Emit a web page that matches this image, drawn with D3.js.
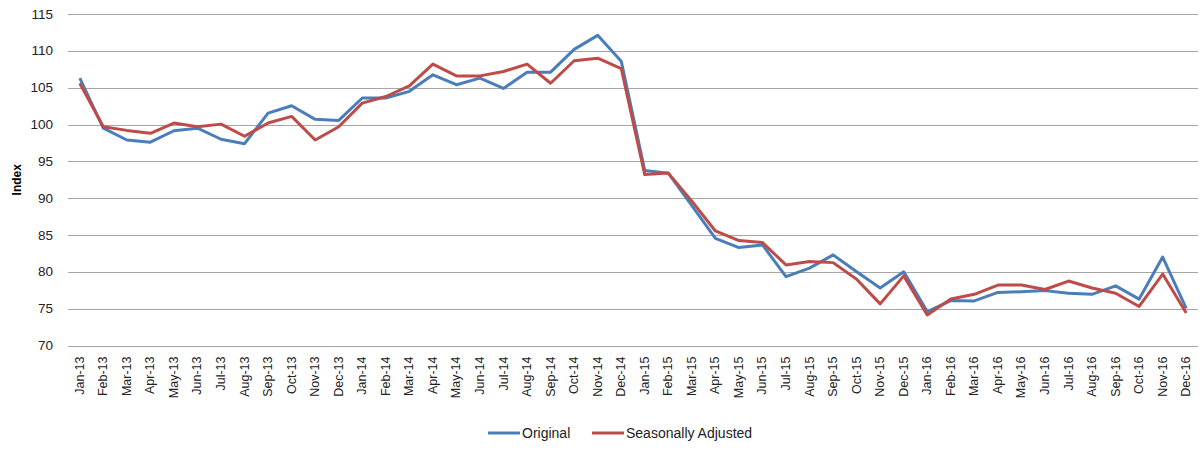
<!DOCTYPE html>
<html>
<head>
<meta charset="utf-8">
<script src="https://cdn.jsdelivr.net/npm/d3@7"></script>
<style>
  body { margin: 0; background: #fff; }
  svg { font-family: "Liberation Sans", Arial, sans-serif; }
</style>
</head>
<body>
<div id="chart"></div>
<script>
const months = ["Jan-13","Feb-13","Mar-13","Apr-13","May-13","Jun-13","Jul-13","Aug-13","Sep-13","Oct-13","Nov-13","Dec-13",
  "Jan-14","Feb-14","Mar-14","Apr-14","May-14","Jun-14","Jul-14","Aug-14","Sep-14","Oct-14","Nov-14","Dec-14",
  "Jan-15","Feb-15","Mar-15","Apr-15","May-15","Jun-15","Jul-15","Aug-15","Sep-15","Oct-15","Nov-15","Dec-15",
  "Jan-16","Feb-16","Mar-16","Apr-16","May-16","Jun-16","Jul-16","Aug-16","Sep-16","Oct-16","Nov-16","Dec-16"];

const original = [106.3, 99.5, 97.9, 97.6, 99.15, 99.5, 98.0, 97.4, 101.55, 102.55, 100.7, 100.55,
  103.6, 103.6, 104.5, 106.75, 105.4, 106.3, 104.9, 107.1, 107.1, 110.2, 112.1, 108.6,
  93.75, 93.4, 89.0, 84.55, 83.3, 83.65, 79.35, 80.5, 82.3, 80.0, 77.8, 80.0,
  74.6, 76.1, 76.05, 77.2, 77.3, 77.45, 77.1, 76.95, 78.1, 76.3, 82.0, 75.05];

const adjusted = [105.6, 99.7, 99.2, 98.8, 100.2, 99.7, 100.05, 98.4, 100.2, 101.1, 97.9, 99.7,
  102.9, 103.8, 105.25, 108.2, 106.6, 106.6, 107.2, 108.2, 105.6, 108.65, 109.0, 107.6,
  93.2, 93.4, 89.6, 85.55, 84.25, 83.97, 80.94, 81.4, 81.25, 79.0, 75.65, 79.45,
  74.15, 76.3, 76.95, 78.2, 78.2, 77.6, 78.75, 77.8, 77.1, 75.3, 79.7, 74.4];

const yTicks = [70, 75, 80, 85, 90, 95, 100, 105, 110, 115];

const seriesNames = ["Original", "Seasonally Adjusted"];
const colors = ["#4a7ebb", "#be4b48"];

const width = 1201, height = 449;
const margin = { top: 14, right: 3, bottom: 103.5, left: 68 };

const svg = d3.select("#chart").append("svg")
  .attr("width", width)
  .attr("height", height);

const x = d3.scaleBand()
  .domain(months)
  .range([margin.left, width - margin.right]);

const y = d3.scaleLinear()
  .domain([70, 115])
  .range([height - margin.bottom, margin.top]);

// gridlines
svg.append("g")
  .selectAll("line")
  .data(yTicks)
  .enter().append("line")
  .attr("x1", margin.left)
  .attr("x2", width - margin.right)
  .attr("y1", d => Math.round(y(d)) + 0.5)
  .attr("y2", d => Math.round(y(d)) + 0.5)
  .attr("stroke", "#a6a6a6")
  .attr("stroke-width", 1);

// y axis labels
svg.append("g")
  .selectAll("text")
  .data(yTicks)
  .enter().append("text")
  .attr("x", 53)
  .attr("y", d => y(d))
  .attr("text-anchor", "end")
  .attr("dominant-baseline", "central")
  .attr("font-size", 13.5)
  .attr("fill", "#222")
  .text(d => d);

// y axis title
svg.append("text")
  .attr("transform", `translate(17,${y(92.5)}) rotate(-90)`)
  .attr("text-anchor", "middle")
  .attr("dominant-baseline", "central")
  .attr("font-size", 12)
  .attr("font-weight", "bold")
  .attr("fill", "#000")
  .text("Index");

// x axis labels
svg.append("g")
  .selectAll("text")
  .data(months)
  .enter().append("text")
  .attr("transform", d => `translate(${x(d) + x.bandwidth() / 2},${height - margin.bottom + 11}) rotate(-90)`)
  .attr("text-anchor", "end")
  .attr("dominant-baseline", "central")
  .attr("font-size", 12.5)
  .attr("fill", "#222")
  .text(d => d);

// lines
const line = d3.line()
  .x((d, i) => x(months[i]) + x.bandwidth() / 2)
  .y(d => y(d));

[original, adjusted].forEach((vals, k) => {
  svg.append("path")
    .datum(vals)
    .attr("d", line)
    .attr("fill", "none")
    .attr("stroke", colors[k])
    .attr("stroke-width", 3)
    .attr("stroke-linejoin", "round");
});

// legend
const legendY = 433;
const legendX = [488, 592];
const legend = svg.append("g");
seriesNames.forEach((name, k) => {
  legend.append("line")
    .attr("x1", legendX[k])
    .attr("x2", legendX[k] + 32)
    .attr("y1", legendY)
    .attr("y2", legendY)
    .attr("stroke", colors[k])
    .attr("stroke-width", 3);
  legend.append("text")
    .attr("x", legendX[k] + 34)
    .attr("y", legendY)
    .attr("dominant-baseline", "central")
    .attr("font-size", 14)
    .attr("fill", "#222")
    .text(name);
});
</script>
</body>
</html>
